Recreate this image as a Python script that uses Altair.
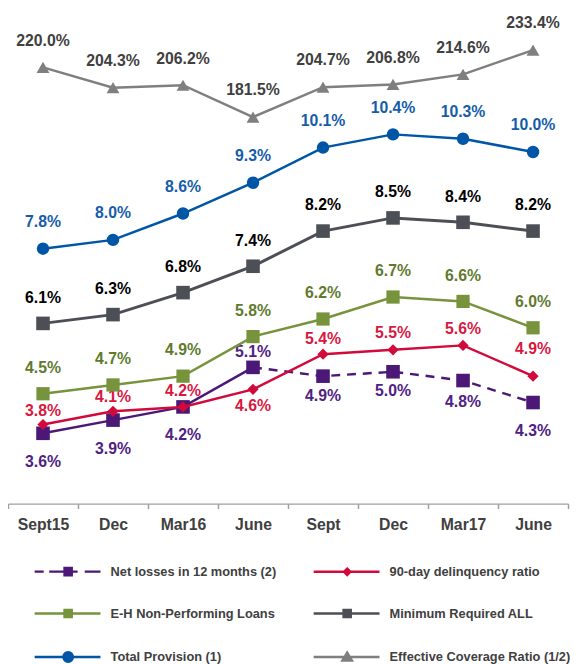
import altair as alt
import pandas as pd

# ---------------- data ----------------
periods = ["Sept15", "Dec", "Mar16", "June", "Sept", "Dec", "Mar17", "June"]
net_losses = [3.6, 3.9, 4.2, 5.1, 4.9, 5.0, 4.8, 4.3]
delinquency = [3.8, 4.1, 4.2, 4.6, 5.4, 5.5, 5.6, 4.9]
npl = [4.5, 4.7, 4.9, 5.8, 6.2, 6.7, 6.6, 6.0]
min_all = [6.1, 6.3, 6.8, 7.4, 8.2, 8.5, 8.4, 8.2]
total_prov = [7.8, 8.0, 8.6, 9.3, 10.1, 10.4, 10.3, 10.0]
coverage = [220.0, 204.3, 206.2, 181.5, 204.7, 206.8, 214.6, 233.4]

series = [
    "Net losses in 12 months (2)",
    "90-day delinquency ratio",
    "E-H Non-Performing Loans",
    "Minimum Required ALL",
    "Total Provision (1)",
    "Effective Coverage Ratio (1/2)",
]
values = dict(zip(series, [net_losses, delinquency, npl, min_all, total_prov, coverage]))

# ---------------- styles ----------------
FONT = "Liberation Sans"
colors = ["#4B1877", "#D2093B", "#77933C", "#4D4F57", "#0056A6", "#7F7F7F"]
label_colors = ["#4F2183", "#D9173F", "#5F7A2E", "#000000", "#155DAA", "#404040"]
shapes = ["square", "diamond", "square", "square", "circle", "triangle-up"]
sizes = [190, 130, 180, 190, 160, 170]
widths = [2.5, 2.5, 2.5, 3, 2.5, 2.5]
label_dy = [
    [29, 29, 29, -15, 20, 20, 22, 29],
    [-14, -14, -16, 17, -15, -17, -17, -27],
    [-26] * 8,
    [-26] * 8,
    [-27] * 8,
    [-27] * 8,
]
# legend symbols: custom paths (unit = 8px)
sq = "M-3.45,-0.45H-2.55V0.45H-3.45Z"
legend_paths = [
    "M-7.25,0H-6.1M-5.4,0H-1.8M-0.9,0H1.1" + sq,
    "M-7.25,0H1.1M-3,-0.4L-2.6,0L-3,0.4L-3.4,0Z",
    "M-7.25,0H1.1" + sq,
    "M-7.25,0H1.1" + sq,
    "M-7.25,0H1.1M-3.6,0A0.6,0.6 0 1,0 -2.4,0A0.6,0.6 0 1,0 -3.6,0Z",
    "M-7.25,0H1.1M-3,-0.55L-2.4,0.45H-3.6Z",
]
legend_order = [0, 2, 4, 1, 3, 5]  # legend fills columns first

rows = []
for k, s in enumerate(series):
    for i, v in enumerate(values[s]):
        rows.append(dict(idx=i, series=s, value=v, label=f"{v:.1f}%", dy=label_dy[k][i]))
df = pd.DataFrame(rows)

label_expr = "[" + ",".join(f"'{p}'" for p in periods) + "][datum.value]"
xscale = alt.Scale(type="band", domain=list(range(len(periods))), paddingInner=0, paddingOuter=0)
x_axis = alt.X(
    "idx:O",
    scale=xscale,
    axis=alt.Axis(
        title=None, labelExpr=label_expr, labelAngle=0, tickBand="extent",
        labelFont=FONT, labelFontSize=16, labelFontWeight="bold", labelColor="#404040",
        labelPadding=8, domainColor="#A0A0A0", domainWidth=1.5, tickColor="#A0A0A0",
        tickWidth=1.5, tickSize=5, grid=False,
    ),
)
prim_scale = alt.Scale(domain=[2, 13.17], nice=False, zero=False)
sec_scale = alt.Scale(domain=[-117.7, 262.4], nice=False, zero=False)

base = alt.Chart(df)


def series_layers(k, yscale):
    s = series[k]
    y = alt.Y("value:Q", scale=yscale, axis=None)
    out = []
    src = base.transform_filter(alt.datum.series == s)
    if k == 0:
        out.append(src.transform_filter(alt.datum.idx <= 3).mark_line(
            color=colors[k], strokeWidth=widths[k]).encode(x=x_axis, y=y))
        out.append(src.transform_filter(alt.datum.idx >= 3).mark_line(
            color=colors[k], strokeWidth=widths[k], strokeDash=[9, 7]).encode(x=x_axis, y=y))
    else:
        out.append(src.mark_line(color=colors[k], strokeWidth=widths[k]).encode(x=x_axis, y=y))
    out.append(src.mark_point(filled=True, shape=shapes[k], size=sizes[k], color=colors[k],
                              opacity=1).encode(x=x_axis, y=y))
    for d in sorted(set(label_dy[k])):
        out.append(src.transform_filter(alt.datum.dy == d).mark_text(
            font=FONT, fontSize=16, fontWeight="bold", color=label_colors[k], dy=d
        ).encode(x=x_axis, y=y, text="label:N"))
    return out


leg_domain = [series[i] for i in legend_order]
leg_colors = [colors[i] for i in legend_order]
leg_paths = [legend_paths[i] for i in legend_order]
leg = alt.Legend(
    title=None, orient="none", legendX=75.5, legendY=557, columns=2, columnPadding=32,
    rowPadding=24, symbolSize=256, symbolStrokeWidth=2.5, symbolOpacity=1,
    labelFont=FONT, labelFontSize=13, labelFontWeight="bold", labelColor="#404040",
    labelOffset=9.5, labelLimit=400, padding=0,
)
legend_layer = base.transform_filter("false").mark_point(filled=True, size=256).encode(
    x=x_axis,
    y=alt.Y("value:Q", scale=prim_scale, axis=None),
    fill=alt.Fill("series:N", scale=alt.Scale(domain=leg_domain, range=leg_colors), legend=leg),
    stroke=alt.Stroke("series:N", scale=alt.Scale(domain=leg_domain, range=leg_colors), legend=leg),
    shape=alt.Shape("series:N", scale=alt.Scale(domain=leg_domain, range=leg_paths), legend=leg),
)

prim_layers = []
for k in range(5):
    prim_layers += series_layers(k, prim_scale)
prim_layers.append(legend_layer)
primary = alt.layer(*prim_layers)
secondary = alt.layer(*series_layers(5, sec_scale))

chart = alt.layer(primary, secondary).resolve_scale(y="independent").properties(
    width=568, height=498,
    padding={"left": 0, "top": 0, "right": 2, "bottom": 160},
    autosize=alt.AutoSizeParams(type="none"),
).configure_view(stroke=None)

chart.save("out.html", embed_options={"renderer": "svg", "actions": False})
